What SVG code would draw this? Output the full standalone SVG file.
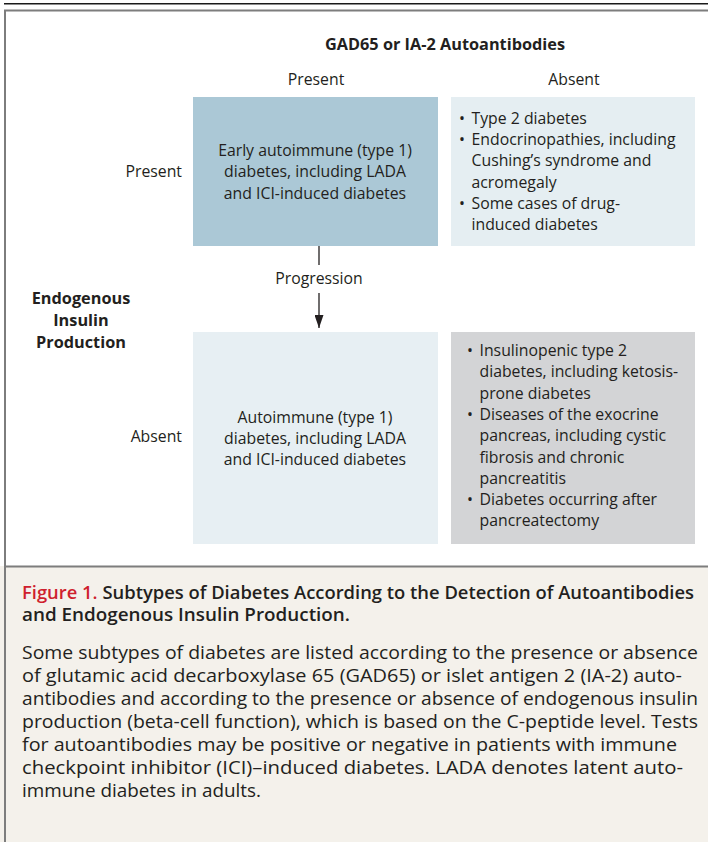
<svg xmlns="http://www.w3.org/2000/svg" width="708" height="842" viewBox="0 0 708 842">
<style>
text { font-family: "Open Sans", "Noto Sans", "Liberation Sans", sans-serif; fill: #231f20; }
.lbl { font-size: 15.8px; }
.hdr { font-size: 16.3px; font-weight: bold; }
.box { font-size: 15.8px; }
.cap { font-size: 18.2px; }
.capt { font-size: 18.2px; font-weight: 600; }
.red { fill: #cf1f2e; }
.conn { stroke: #231f20; stroke-width: 1.3; fill: none; }
</style>
<defs>
<marker id="arr" markerWidth="14" markerHeight="9" refX="13" refY="4.5" orient="auto" markerUnits="userSpaceOnUse" viewBox="0 0 14 9">
<path d="M0,0 L13,4.5 L0,9 Z" fill="#231f20"/>
</marker>
</defs>
<rect x="0" y="0" width="708" height="842" fill="#ffffff"/>
<line x1="4" y1="3.8" x2="708" y2="3.8" stroke="#1a1a1a" stroke-width="1.6"/>
<rect x="0" y="566" width="708" height="276" fill="#f4f1eb"/>
<path d="M5,842 V10.5 H708" fill="none" stroke="#7d7d7d" stroke-width="2"/>
<line x1="5" y1="566.5" x2="708" y2="566.5" stroke="#7d7d7d" stroke-width="2"/>

<g id="header">
<text class="hdr" x="445" y="50" text-anchor="middle">GAD65 or IA-2 Autoantibodies</text>
<text class="lbl" x="316" y="85" text-anchor="middle">Present</text>
<text class="lbl" x="574" y="85" text-anchor="middle">Absent</text>
<text class="lbl" x="182" y="177" text-anchor="end">Present</text>
<text class="lbl" x="182" y="442" text-anchor="end">Absent</text>
<text class="hdr" x="81" text-anchor="middle"><tspan x="81" y="304">Endogenous</tspan><tspan x="81" y="326">Insulin</tspan><tspan x="81" y="348">Production</tspan></text>
</g>

<g id="node-early">
<rect x="193" y="97" width="245" height="149" fill="#abc8d6"/>
<text class="box" text-anchor="middle"><tspan x="315" y="156">Early autoimmune (type 1)</tspan><tspan x="315" y="177">diabetes, including LADA</tspan><tspan x="315" y="198.5">and ICI-induced diabetes</tspan></text>
</g>

<g id="node-type2">
<rect x="451" y="97" width="244" height="149" fill="#e5eef2"/>
<text class="box"><tspan x="459" y="123.5">•</tspan><tspan x="471.5" y="123.5">Type 2 diabetes</tspan><tspan x="459" y="145">•</tspan><tspan x="471.5" y="145">Endocrinopathies, including</tspan><tspan x="471.5" y="166">Cushing’s syndrome and</tspan><tspan x="471.5" y="187.5">acromegaly</tspan><tspan x="459" y="208.5">•</tspan><tspan x="471.5" y="208.5">Some cases of drug-</tspan><tspan x="471.5" y="230">induced diabetes</tspan></text>
</g>

<g id="node-autoimmune">
<rect x="193" y="332" width="245" height="212" fill="#e7eff3"/>
<text class="box" text-anchor="middle"><tspan x="315" y="422.5">Autoimmune (type 1)</tspan><tspan x="315" y="443.5">diabetes, including LADA</tspan><tspan x="315" y="465">and ICI-induced diabetes</tspan></text>
</g>

<g id="node-insulinopenic">
<rect x="451" y="332" width="244" height="212" fill="#d3d4d6"/>
<text class="box"><tspan x="467" y="356">•</tspan><tspan x="479.5" y="356">Insulinopenic type 2</tspan><tspan x="479.5" y="377.3">diabetes, including ketosis-</tspan><tspan x="479.5" y="398.6">prone diabetes</tspan><tspan x="467" y="420">•</tspan><tspan x="479.5" y="420">Diseases of the exocrine</tspan><tspan x="479.5" y="441.2">pancreas, including cystic</tspan><tspan x="479.5" y="462.5">fibrosis and chronic</tspan><tspan x="479.5" y="483.8">pancreatitis</tspan><tspan x="467" y="505">•</tspan><tspan x="479.5" y="505">Diabetes occurring after</tspan><tspan x="479.5" y="526.4">pancreatectomy</tspan></text>
</g>

<g id="connectors">
<line class="conn" x1="319" y1="246" x2="319" y2="265"/>
<line class="conn" x1="319" y1="293" x2="319" y2="328" marker-end="url(#arr)"/>
<text class="lbl" x="319" y="283.5" text-anchor="middle">Progression</text>
</g>

<g id="caption">
<text class="capt" x="22" y="599" textLength="672" lengthAdjust="spacingAndGlyphs"><tspan class="red">Figure 1.</tspan> Subtypes of Diabetes According to the Detection of Autoantibodies</text>
<text class="capt" x="22" y="621" textLength="328" lengthAdjust="spacingAndGlyphs">and Endogenous Insulin Production.</text>
<text class="cap" x="22" y="659" textLength="676" lengthAdjust="spacingAndGlyphs">Some subtypes of diabetes are listed according to the presence or absence</text>
<text class="cap" x="22" y="682" textLength="660" lengthAdjust="spacingAndGlyphs">of glutamic acid decarboxylase 65 (GAD65) or islet antigen 2 (IA-2) auto-</text>
<text class="cap" x="22" y="705" textLength="676" lengthAdjust="spacingAndGlyphs">antibodies and according to the presence or absence of endogenous insulin</text>
<text class="cap" x="22" y="728" textLength="676" lengthAdjust="spacingAndGlyphs">production (beta-cell function), which is based on the C-peptide level. Tests</text>
<text class="cap" x="22" y="751" textLength="655" lengthAdjust="spacingAndGlyphs">for autoantibodies may be positive or negative in patients with immune</text>
<text class="cap" x="22" y="774" textLength="661" lengthAdjust="spacingAndGlyphs">checkpoint inhibitor (ICI)–induced diabetes. LADA denotes latent auto-</text>
<text class="cap" x="22" y="797" textLength="239" lengthAdjust="spacingAndGlyphs">immune diabetes in adults.</text>
</g>
</svg>
